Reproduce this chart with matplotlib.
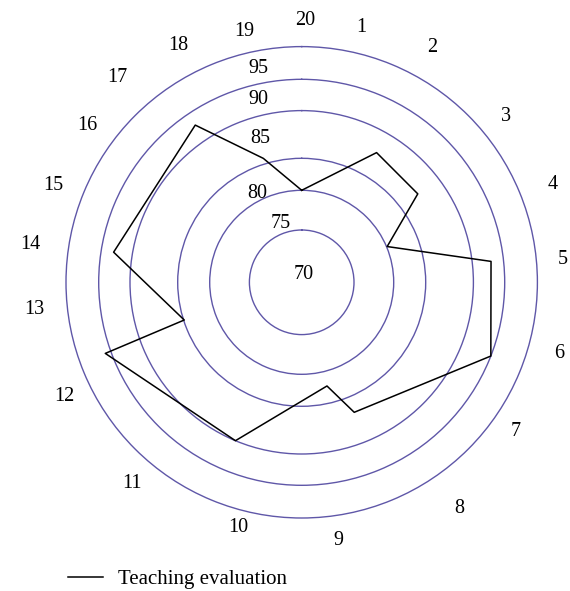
import numpy as np
import matplotlib
matplotlib.use("Agg")
import matplotlib.pyplot as plt

plt.rcParams['font.family'] = 'Liberation Serif'

# radar layout: the score rings are not evenly spaced on this chart
ring_levels = [70, 75, 80, 85, 90, 95, 100]
ring_radius = [0, 52.3, 92, 124, 171.7, 203, 235.7]

# polygon vertices: direction (deg, clockwise from top) and score
vertex_angle = [0, 30.0, 52.7, 67.3, 83.7, 111.3, 158.0, 166.3, 202.7,
                250.1, 252.2, 279.1, 325.9, 342.8]
vertex_score = [80.0, 87.7, 87.3, 80.1, 93.0, 95.0, 86.7, 82.3, 90.0,
                95.9, 84.9, 93.0, 92.9, 85.6]

categories = ['20', '1', '2', '3', '4', '5', '6', '7', '8', '9', '10',
              '11', '12', '13', '14', '15', '16', '17', '18', '19']
score_labels = ['70', '75', '80', '85', '90', '95']

# where the text sits around the chart (deg clockwise from top, px from centre)
cat_angle = [0.7, 13.1, 29.0, 51.0, 68.8, 85.1, 105.4, 124.9, 145.2, 171.8,
             194.6, 220.2, 244.4, 264.3, 278.0, 291.2, 306.1, 317.9, 332.4, 347.1]
cat_dist = [262.3, 262.1, 269, 262.8, 269.5, 262.2, 266.8, 261.4, 275.9, 260.4,
            252.9, 262.8, 263.5, 269, 274.4, 266.7, 265.6, 275.4, 266.7, 257.8]
score_dx = [1.6, -20.7, -44.7, -41.4, -43.4, -43.4]
score_dy = [-7.6, -58.6, -88.6, -144.0, -182.3, -214.0]

ring_color = '#5f57a8'


def fwd(v):
    return np.interp(v, ring_levels, ring_radius)


def inv(r):
    return np.interp(r, ring_radius, ring_levels)


fig = plt.figure(figsize=(5.7, 5.91), dpi=100)
cx, cy, R = 301.7, 282.3, 235.7
ax = fig.add_axes([(cx - R) / 570, (591 - cy - R) / 591, 2 * R / 570, 2 * R / 591],
                  projection='polar')
ax.set_theta_zero_location('N')
ax.set_theta_direction(-1)
ax.set_rscale('function', functions=(fwd, inv))
ax.set_rlim(70, 100)

theta = np.deg2rad(vertex_angle + vertex_angle[:1])
ax.plot(theta, vertex_score + vertex_score[:1], color='black', lw=1.1,
        label='Teaching evaluation')

ax.set_rgrids(ring_levels[1:-1], labels=[''] * 5)
ax.set_thetagrids([])
ax.xaxis.grid(False)
ax.yaxis.grid(True, color=ring_color, lw=1.0)
ax.spines['polar'].set_color(ring_color)
ax.spines['polar'].set_linewidth(1.0)


def px_to_axes(dx, dy):
    return 0.5 + dx / (2 * R), 0.5 - dy / (2 * R)


for lab, a, d in zip(categories, cat_angle, cat_dist):
    x, y = px_to_axes(d * np.sin(np.deg2rad(a)), -d * np.cos(np.deg2rad(a)))
    ax.text(x, y, lab, transform=ax.transAxes, ha='center', va='center',
            fontsize=14.5, clip_on=False)

for lab, dx, dy in zip(score_labels, score_dx, score_dy):
    x, y = px_to_axes(dx, dy)
    ax.text(x, y, lab, transform=ax.transAxes, ha='center', va='center',
            fontsize=14.5)

fig.legend(loc='center left', bbox_to_anchor=(68 / 570, 1 - 579 / 591),
           frameon=False, fontsize=15, handlelength=1.68, handletextpad=0.72,
           borderpad=0, borderaxespad=0)

fig.savefig('out.png', dpi=100)
